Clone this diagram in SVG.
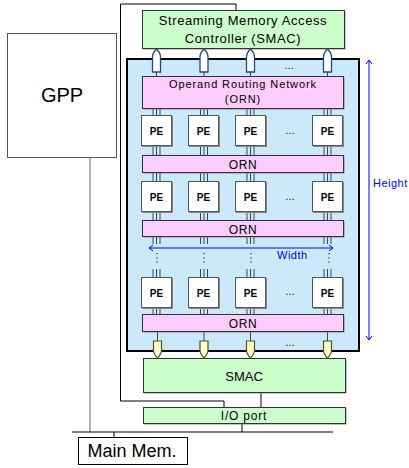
<svg xmlns="http://www.w3.org/2000/svg" xmlns:xlink="http://www.w3.org/1999/xlink" width="409" height="468" viewBox="0 0 409 468">
  <style>
    text { font-family: "Liberation Sans", Arial, sans-serif; fill: #000; }
    .box { stroke: #333; stroke-width: 1; }
    .shadow { fill: #888; }
    .smac { fill: #ccffcc; }
    .orn { fill: #ffccff; }
    .pe { fill: #fff; stroke: #555; stroke-width: 1; }
    .pet { font-size: 10px; font-weight: bold; text-anchor: middle; }
    .ornt { font-size: 12px; letter-spacing: 0.6px; text-anchor: middle; }
    .wire { stroke: #444; stroke-width: 1; fill: none; }
    .line { stroke: #000; stroke-width: 1; fill: none; }
    .dim { stroke: #0000ff; stroke-width: 1; fill: none; }
    .dimt { font-size: 11px; fill: #0000ff; letter-spacing: 0.5px; }
    .dots { font-size: 10px; text-anchor: middle; }
  </style>
  <defs>
    <!-- hollow upward arrow toward the upper SMAC -->
    <path id="upArrow" d="M0,49 Q-4,53 -4,57 V72 H4 V57 Q4,53 0,49 Z" fill="#fff" stroke="#1f4a7a" stroke-width="1.3"/>
    <!-- downward arrow into the lower SMAC -->
    <path id="downArrow" d="M-4,341 H4 V350 Q4,354 0,358 Q-4,354 -4,350 Z" fill="#ffffcc" stroke="#4d4d26" stroke-width="1.2"/>
  </defs>

  <!-- system frame wiring -->
  <g id="connectors">
    <polyline class="line" points="236,10 236,4 120.5,4 120.5,401 224,401 224,407"/>
    <line x1="90" y1="157" x2="90" y2="432" stroke="#666" stroke-width="1"/>
    <line class="line" x1="72" y1="432" x2="333" y2="432"/>
    <line class="line" x1="242" y1="424" x2="242" y2="432"/>
    <line class="line" x1="114" y1="432" x2="114" y2="437"/>
    <line class="line" x1="261" y1="393" x2="261" y2="407"/>
  </g>

  <!-- general purpose processor -->
  <g id="gpp">
    <rect x="7.5" y="33.5" width="109" height="124" fill="#fff" stroke="#555"/>
    <text x="62" y="102" font-size="20" text-anchor="middle">GPP</text>
  </g>

  <!-- upper streaming memory access controller -->
  <g id="smac-top">
    <rect x="143.5" y="11.5" width="202" height="38" class="shadow"/>
    <rect x="142.5" y="10.5" width="202" height="38" class="smac box"/>
    <text x="243" y="25" font-size="13" letter-spacing="0.6" text-anchor="middle">Streaming Memory Access</text>
    <text x="243" y="43" font-size="13" letter-spacing="0.6" text-anchor="middle">Controller (SMAC)</text>
  </g>

  <!-- PE array region -->
  <g id="array">
    <rect x="127" y="59" width="232" height="292" fill="#cce9fb" stroke="#000" stroke-width="2"/>
  </g>

  <!-- links inside the array -->
  <g id="array-links" class="wire">
    <!-- ORN top to upper SMAC -->
    <path d="M156.5,72V76 M204,72V76 M250.5,72V76 M327.5,72V76"/>
    <!-- ORN1 to PE row 1 -->
    <path d="M153,109V115 M156.5,109V115 M160,109V115 M200.5,109V115 M204,109V115 M207.5,109V115 M247,109V115 M250.5,109V115 M254,109V115 M324,109V115 M327.5,109V115 M331,109V115"/>
    <!-- PE row 1 to ORN2 -->
    <path d="M153,146V155 M156.5,146V155 M160,146V155 M200.5,146V155 M204,146V155 M207.5,146V155 M247,146V155 M250.5,146V155 M254,146V155 M324,146V155 M327.5,146V155 M331,146V155"/>
    <!-- ORN2 to PE row 2 -->
    <path d="M153,173V181 M156.5,173V181 M160,173V181 M200.5,173V181 M204,173V181 M207.5,173V181 M247,173V181 M250.5,173V181 M254,173V181 M324,173V181 M327.5,173V181 M331,173V181"/>
    <!-- PE row 2 to ORN3 -->
    <path d="M153,212V220 M156.5,212V220 M160,212V220 M200.5,212V220 M204,212V220 M207.5,212V220 M247,212V220 M250.5,212V220 M254,212V220 M324,212V220 M327.5,212V220 M331,212V220"/>
    <!-- ORN3 stubs -->
    <path d="M153,237V244 M156.5,237V244 M160,237V244 M200.5,237V244 M204,237V244 M207.5,237V244 M247,237V244 M250.5,237V244 M254,237V244 M324,237V244 M327.5,237V244 M331,237V244"/>
    <!-- stubs into PE row 3 -->
    <path d="M153,269V277 M156.5,269V277 M160,269V277 M200.5,269V277 M204,269V277 M207.5,269V277 M247,269V277 M250.5,269V277 M254,269V277 M324,269V277 M327.5,269V277 M331,269V277"/>
    <!-- PE row 3 to ORN4 -->
    <path d="M153,307V314 M156.5,307V314 M160,307V314 M200.5,307V314 M204,307V314 M207.5,307V314 M247,307V314 M250.5,307V314 M254,307V314 M324,307V314 M327.5,307V314 M331,307V314"/>
    <!-- ORN4 to lower SMAC -->
    <path d="M157.5,332V341 M204,332V341 M250.5,332V341 M327.5,332V341"/>
    <!-- elided rows -->
    <path d="M157,253V264 M204,253V264 M251,253V264 M329,253V264" stroke="#000" stroke-dasharray="1.2,3"/>
  </g>

  <!-- arrows between array and SMACs -->
  <g id="ports">
    <use xlink:href="#upArrow" transform="translate(156.5,0)"/>
    <use xlink:href="#upArrow" transform="translate(204,0)"/>
    <use xlink:href="#upArrow" transform="translate(250.5,0)"/>
    <use xlink:href="#upArrow" transform="translate(327.5,0)"/>
    <text class="dots" x="289" y="69">…</text>
    <use xlink:href="#downArrow" transform="translate(157.5,0)"/>
    <use xlink:href="#downArrow" transform="translate(204,0)"/>
    <use xlink:href="#downArrow" transform="translate(250.5,0)"/>
    <use xlink:href="#downArrow" transform="translate(327.5,0)"/>
    <text class="dots" x="290" y="346">…</text>
  </g>

  <!-- operand routing network bars -->
  <g id="orn-1">
    <rect x="143.5" y="77.5" width="201" height="32" class="shadow"/>
    <rect x="142.5" y="76.5" width="201" height="32" class="orn box"/>
    <text x="243" y="88" font-size="11" letter-spacing="0.9" text-anchor="middle">Operand Routing Network</text>
    <text x="243" y="103" font-size="11" letter-spacing="0.9" text-anchor="middle">(ORN)</text>
  </g>
  <g id="orn-2">
    <rect x="143.5" y="156.5" width="201" height="17" class="shadow"/>
    <rect x="142.5" y="155.5" width="201" height="17" class="orn box"/>
    <text class="ornt" x="243" y="169">ORN</text>
  </g>
  <g id="orn-3">
    <rect x="143.5" y="221.5" width="201" height="16" class="shadow"/>
    <rect x="142.5" y="220.5" width="201" height="16" class="orn box"/>
    <text class="ornt" x="243" y="233.5">ORN</text>
  </g>
  <g id="orn-4">
    <rect x="143.5" y="315.5" width="201" height="17" class="shadow"/>
    <rect x="142.5" y="314.5" width="201" height="17" class="orn box"/>
    <text class="ornt" x="243" y="328">ORN</text>
  </g>

  <!-- processing elements, row 1 -->
  <g id="pe-1-1"><rect x="142" y="116" width="31" height="31" class="shadow"/><rect x="141.5" y="115.5" width="30" height="30" class="pe"/><text class="pet" x="156.5" y="134.5">PE</text></g>
  <g id="pe-1-2"><rect x="189" y="116" width="31" height="31" class="shadow"/><rect x="188.5" y="115.5" width="30" height="30" class="pe"/><text class="pet" x="203.5" y="134.5">PE</text></g>
  <g id="pe-1-3"><rect x="236" y="116" width="31" height="31" class="shadow"/><rect x="235.5" y="115.5" width="30" height="30" class="pe"/><text class="pet" x="250.5" y="134.5">PE</text></g>
  <g id="pe-1-n"><rect x="313" y="116" width="31" height="31" class="shadow"/><rect x="312.5" y="115.5" width="30" height="30" class="pe"/><text class="pet" x="327.5" y="134.5">PE</text></g>
  <text class="dots" x="290" y="134">…</text>

  <!-- processing elements, row 2 -->
  <g id="pe-2-1"><rect x="142" y="182" width="31" height="31" class="shadow"/><rect x="141.5" y="181.5" width="30" height="30" class="pe"/><text class="pet" x="156.5" y="200.5">PE</text></g>
  <g id="pe-2-2"><rect x="189" y="182" width="31" height="31" class="shadow"/><rect x="188.5" y="181.5" width="30" height="30" class="pe"/><text class="pet" x="203.5" y="200.5">PE</text></g>
  <g id="pe-2-3"><rect x="236" y="182" width="31" height="31" class="shadow"/><rect x="235.5" y="181.5" width="30" height="30" class="pe"/><text class="pet" x="250.5" y="200.5">PE</text></g>
  <g id="pe-2-n"><rect x="313" y="182" width="31" height="31" class="shadow"/><rect x="312.5" y="181.5" width="30" height="30" class="pe"/><text class="pet" x="327.5" y="200.5">PE</text></g>
  <text class="dots" x="290" y="200">…</text>

  <!-- processing elements, last row -->
  <g id="pe-m-1"><rect x="142" y="278" width="31" height="31" class="shadow"/><rect x="141.5" y="277.5" width="30" height="30" class="pe"/><text class="pet" x="156.5" y="296.5">PE</text></g>
  <g id="pe-m-2"><rect x="189" y="278" width="31" height="31" class="shadow"/><rect x="188.5" y="277.5" width="30" height="30" class="pe"/><text class="pet" x="203.5" y="296.5">PE</text></g>
  <g id="pe-m-3"><rect x="236" y="278" width="31" height="31" class="shadow"/><rect x="235.5" y="277.5" width="30" height="30" class="pe"/><text class="pet" x="250.5" y="296.5">PE</text></g>
  <g id="pe-m-n"><rect x="313" y="278" width="31" height="31" class="shadow"/><rect x="312.5" y="277.5" width="30" height="30" class="pe"/><text class="pet" x="327.5" y="296.5">PE</text></g>
  <text class="dots" x="290" y="295">…</text>

  <!-- width dimension -->
  <g id="width-dim">
    <line class="dim" x1="149" y1="248" x2="333" y2="248"/>
    <polyline class="dim" points="153,245 149,248 153,251"/>
    <polyline class="dim" points="329,245 333,248 329,251"/>
    <text class="dimt" x="277" y="259">Width</text>
  </g>

  <!-- height dimension -->
  <g id="height-dim">
    <line class="dim" x1="369" y1="60" x2="369" y2="340"/>
    <polyline class="dim" points="366,64 369,60 372,64"/>
    <polyline class="dim" points="366,336 369,340 372,336"/>
    <text class="dimt" x="373" y="187">Height</text>
  </g>

  <!-- lower streaming memory access controller -->
  <g id="smac-bottom">
    <rect x="144.5" y="359.5" width="202" height="34" class="shadow"/>
    <rect x="143.5" y="358.5" width="202" height="34" class="smac box"/>
    <text x="244" y="381" font-size="13" text-anchor="middle">SMAC</text>
  </g>

  <!-- I/O port -->
  <g id="io-port">
    <rect x="144.5" y="408.5" width="202" height="16" class="shadow"/>
    <rect x="143.5" y="407.5" width="202" height="16" class="smac box"/>
    <text x="244" y="420" font-size="12" letter-spacing="0.8" text-anchor="middle">I/O port</text>
  </g>

  <!-- main memory -->
  <g id="main-mem">
    <rect x="78.5" y="437.5" width="109" height="27" fill="#fff" stroke="#000"/>
    <text x="132" y="457" font-size="18" text-anchor="middle">Main Mem.</text>
  </g>
</svg>
